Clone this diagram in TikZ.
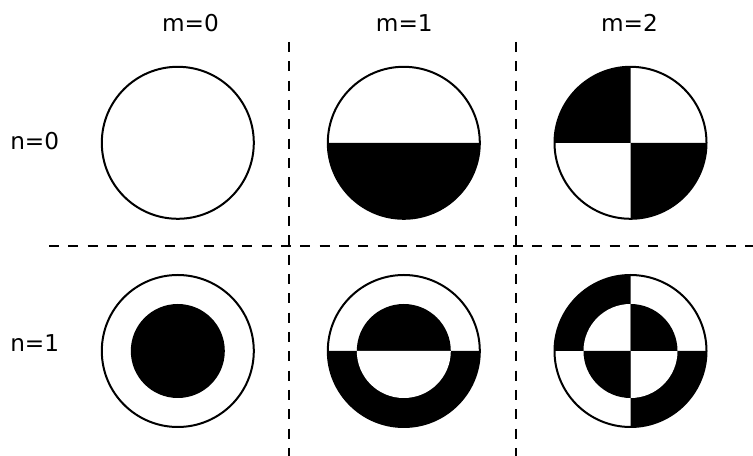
\documentclass[tikz,border=0pt]{standalone}
\usepackage{fontspec}
\setmainfont{DejaVu Sans}
\begin{document}
\begin{tikzpicture}[
  x=0.75pt, y=0.75pt, font=\fontsize{17.4}{21}\selectfont,
  lab/.style={inner sep=0pt},
  rim/.style={draw=black,line width=1.5pt},
  sep/.style={draw=black,line width=2pt,dash pattern=on 7.5pt off 7pt}]
\useasboundingbox (0,0) rectangle (753,456);
% mode centres
\coordinate (a0) at (177.8,313.2);
\coordinate (a1) at (403.8,313.2);
\coordinate (a2) at (630.5,313.2);
\coordinate (b0) at (177.8,105);
\coordinate (b1) at (403.8,105);
\coordinate (b2) at (630.5,105);
% labels
\node[lab,anchor=base] (m0) at (190.5,424.3) {m=0};
\node[lab,anchor=base] (m1) at (404.3,424.3) {m=1};
\node[lab,anchor=base] (m2) at (629.5,424.3) {m=2};
\node[lab,anchor=base west] (n0) at (10,306) {n=0};
\node[lab,anchor=base west] (n1) at (10,104.3) {n=1};
% dividers
\coordinate (v1t) at (289,414); \coordinate (v1b) at (289,0);
\coordinate (v2t) at (516,414); \coordinate (v2b) at (516,0);
\coordinate (hl) at (49,210); \coordinate (hr) at (753,210);
\draw[sep] (v1t) -- (v1b);
\draw[sep] (v2t) -- (v2b);
\draw[sep] (hl) -- (hr);
% n=0, m=1
\fill (a1) ++(0:76) arc (0:-180:76) -- cycle;
% n=0, m=2
\fill (a2) -- ++(90:76) arc (90:180:76) -- cycle;
\fill (a2) -- ++(-90:76) arc (-90:0:76) -- cycle;
% n=1, m=0
\fill (b0) circle[radius=47];
% n=1, m=1
\fill (b1) ++(0:76) arc (0:-180:76) -- cycle;
\fill (b1) ++(0:47) arc (0:180:47) -- cycle;
\fill[white] (b1) ++(0:47) arc (0:-180:47) -- cycle;
% n=1, m=2
\fill (b2) -- ++(90:76) arc (90:180:76) -- cycle;
\fill (b2) -- ++(-90:76) arc (-90:0:76) -- cycle;
\fill[white] (b2) -- ++(90:47) arc (90:180:47) -- cycle;
\fill[white] (b2) -- ++(-90:47) arc (-90:0:47) -- cycle;
\fill (b2) -- ++(0:47) arc (0:90:47) -- cycle;
\fill (b2) -- ++(180:47) arc (180:270:47) -- cycle;
% outlines
\foreach \c in {a0,a1,a2,b0,b1,b2}
  \draw[rim] (\c) circle[radius=76];
\end{tikzpicture}
\end{document}
